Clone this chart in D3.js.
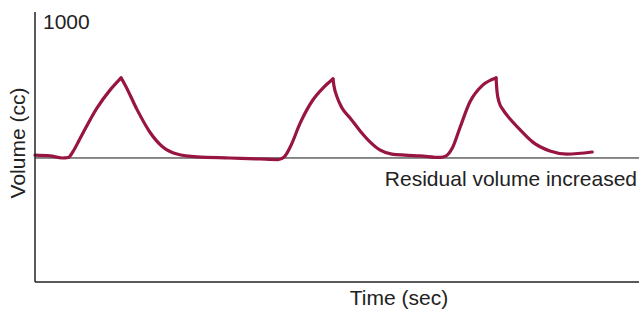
<!DOCTYPE html>
<html>
<head>
<meta charset="utf-8">
<script src="https://cdn.jsdelivr.net/npm/d3@7"></script>
<style>
  body { margin: 0; background: #fff; }
  svg text { font-family: "Liberation Sans", Arial, sans-serif; fill: #222; }
</style>
</head>
<body>
<svg id="chart" width="639" height="310"></svg>
<script>
// time (sec) and volume (cc)
var times = [0, 0.30, 0.54, 0.66, 0.75, 0.89, 1.23, 1.49, 1.71,
  1.79, 2.03, 2.28, 2.54, 2.82, 3.22, 3.87, 4.47, 4.83, 4.95, 5.07, 5.27, 5.52, 5.72, 5.92,
  5.94, 6.00, 6.10, 6.26, 6.46, 6.66, 6.85, 7.09, 7.35, 7.65, 8.05, 8.17, 8.29, 8.44, 8.64, 8.90, 9.16,
  9.18, 9.22, 9.30, 9.44, 9.64, 9.89, 10.23, 10.57, 11.07];
var volumes = [488, 485, 477, 479, 500, 550, 669, 738, 785,
  758, 662, 577, 519, 492, 481, 477, 473, 471, 481, 519, 612, 700, 746, 781,
  754, 712, 669, 631, 581, 538, 508, 492, 488, 485, 479, 485, 515, 592, 692, 758, 785,
  731, 692, 662, 627, 585, 538, 504, 492, 500];
// indices where a breath peaks (sharp corner)
var peaks = [8, 23, 40];
var residual = 477;
var yMaxLabel = "1000";

var svg = d3.select("#chart");

var x = d3.scaleLinear().domain([0, 12]).range([35, 639]);
var y = d3.scaleLinear().domain([0, 1000]).range([282, 22]);

var pts = times.map(function(t, i){ return [t, volumes[i]]; });

// split at the peaks so the corners stay sharp
var segs = [];
var start = 0;
peaks.forEach(function(p){
  segs.push(pts.slice(start, p + 1));
  start = p;
});
segs.push(pts.slice(start));

var line = d3.line()
  .x(function(d){ return x(d[0]); })
  .y(function(d){ return y(d[1]); })
  .curve(d3.curveMonotoneX);

// residual volume reference line
svg.append("line")
  .attr("x1", x(0)).attr("x2", x(12))
  .attr("y1", y(residual)).attr("y2", y(residual))
  .attr("stroke", "#111")
  .attr("stroke-width", 1);

svg.selectAll("path.trace")
  .data(segs)
  .enter()
  .append("path")
  .attr("class", "trace")
  .attr("d", line)
  .attr("fill", "none")
  .attr("stroke", "#981540")
  .attr("stroke-width", 3.2)
  .attr("stroke-linecap", "round");

// axes, drawn as plain lines (no ticks in the original)
svg.append("line")
  .attr("x1", x(0)).attr("x2", x(0))
  .attr("y1", 12).attr("y2", y(0))
  .attr("stroke", "#222")
  .attr("stroke-width", 1.5);
svg.append("line")
  .attr("x1", x(0)).attr("x2", x(12))
  .attr("y1", y(0)).attr("y2", y(0))
  .attr("stroke", "#222")
  .attr("stroke-width", 1.5);

svg.append("text")
  .attr("x", x(0) + 8)
  .attr("y", 29)
  .attr("font-size", 21)
  .text(yMaxLabel);

svg.append("text")
  .attr("transform", "translate(25," + 143 + ") rotate(-90)")
  .attr("text-anchor", "middle")
  .attr("font-size", 21)
  .text("Volume (cc)");

svg.append("text")
  .attr("x", 399)
  .attr("y", 305)
  .attr("text-anchor", "middle")
  .attr("font-size", 21)
  .text("Time (sec)");

svg.append("text")
  .attr("x", 637)
  .attr("y", y(residual) + 28)
  .attr("text-anchor", "end")
  .attr("font-size", 21)
  .text("Residual volume increased");
</script>
</body>
</html>
